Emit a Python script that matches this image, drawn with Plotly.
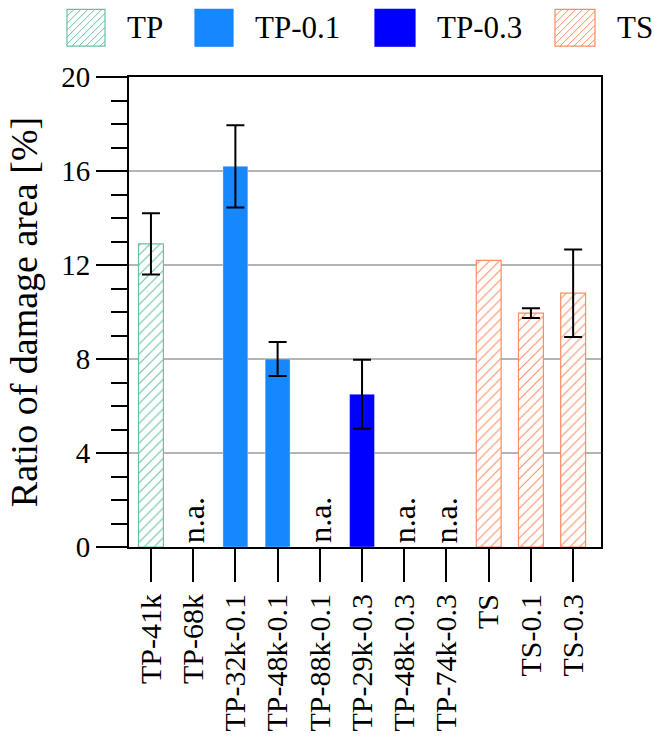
import plotly.graph_objects as go

# Specimens, in display order
categories = ["TP-41k", "TP-68k", "TP-32k-0.1", "TP-48k-0.1", "TP-88k-0.1",
              "TP-29k-0.3", "TP-48k-0.3", "TP-74k-0.3", "TS", "TS-0.1", "TS-0.3"]

# Ratio of damage area [%] (None = not available / no scatter band)
tp_names = ["TP-41k", "TP-68k"]
tp_values = [12.9, None]
tp_errors = [1.3, None]

tp01_names = ["TP-32k-0.1", "TP-48k-0.1", "TP-88k-0.1"]
tp01_values = [16.2, 8.0, None]
tp01_errors = [1.75, 0.72, None]

tp03_names = ["TP-29k-0.3", "TP-48k-0.3", "TP-74k-0.3"]
tp03_values = [6.5, None, None]
tp03_errors = [1.47, None, None]

ts_names = ["TS", "TS-0.1", "TS-0.3"]
ts_values = [12.2, 9.95, 10.8]
ts_errors = [None, 0.21, 1.86]

y_ticks = [0, 4, 8, 12, 16, 20]

FONT = "'Times New Roman', 'Liberation Serif', Tinos, 'DejaVu Serif', serif"
GREEN = "#66c2a5"
ORANGE = "#fc8d62"
BLUE1 = "#1787ff"
BLUE3 = "#0000ff"

series = [
    ("TP", tp_names, tp_values, tp_errors, GREEN, True),
    ("TP-0.1", tp01_names, tp01_values, tp01_errors, BLUE1, False),
    ("TP-0.3", tp03_names, tp03_values, tp03_errors, BLUE3, False),
    ("TS", ts_names, ts_values, ts_errors, ORANGE, True),
]

# plot-area geometry in pixels
W, H = 654, 744
L, R, T, B = 129, 53, 77, 195
PW = W - L - R
PH = H - T - B

fig = go.Figure()

for name, xs, ys, errs, color, hatched in series:
    if hatched:
        marker = dict(color="white", line=dict(color=color, width=1.2),
                      pattern=dict(shape="/", fgcolor=color, bgcolor="white",
                                   size=7, solidity=0.15, fillmode="replace"))
    else:
        marker = dict(color=color, line=dict(color="rgba(255,255,255,0.35)", width=1))
    fig.add_trace(go.Bar(x=xs, y=ys, name=name, width=0.59, marker=marker,
                         showlegend=False))

    # error bars only where a spread was measured
    ex = [x for x, y, e in zip(xs, ys, errs) if y is not None and e is not None]
    ey = [y for x, y, e in zip(xs, ys, errs) if y is not None and e is not None]
    ee = [e for x, y, e in zip(xs, ys, errs) if y is not None and e is not None]
    if ex:
        fig.add_trace(go.Scatter(
            x=ex, y=ey, mode="markers", marker=dict(size=1, opacity=0),
            showlegend=False, hoverinfo="skip",
            error_y=dict(type="data", array=ee, visible=True, color="black",
                         thickness=2, width=9),
        ))

    # "n.a." labels for missing specimens
    for xv, yv in zip(xs, ys):
        if yv is None:
            fig.add_annotation(x=xv, y=0, text="n.a.", textangle=-90,
                               showarrow=False, xanchor="center", yanchor="bottom",
                               yshift=2, font=dict(family=FONT, size=32, color="black"))


def px_to_paper(px, py):
    return (px - L) / PW, (H - B - py) / PH


# legend drawn as swatches + labels across the top
legend_items = [
    ("TP", GREEN, True, 67, 105),
    ("TP-0.1", BLUE1, False, 195, 233),
    ("TP-0.3", BLUE3, False, 375, 415),
    ("TS", ORANGE, True, 555, 595),
]
by0, by1 = 9, 46
for label, color, hatched, bx0, bx1 in legend_items:
    x0, y0 = px_to_paper(bx0, by1)
    x1, y1 = px_to_paper(bx1, by0)
    fig.add_shape(type="rect", xref="paper", yref="paper", x0=x0, x1=x1, y0=y0, y1=y1,
                  line=dict(color=color, width=1.2),
                  fillcolor="white" if hatched else color, layer="above")
    if hatched:
        segs = []
        step = 7
        c = bx0 + by0 + step
        while c < bx1 + by1:
            # line px + py = c clipped to the box
            pts = []
            for px in (bx0, bx1):
                py = c - px
                if by0 <= py <= by1:
                    pts.append((px, py))
            for py in (by0, by1):
                px = c - py
                if bx0 <= px <= bx1:
                    pts.append((px, py))
            pts = sorted(set(pts))
            if len(pts) >= 2:
                (ax, ay), (bx, bb) = pts[0], pts[-1]
                p1 = px_to_paper(ax, ay)
                p2 = px_to_paper(bx, bb)
                segs.append(f"M{p1[0]},{p1[1]} L{p2[0]},{p2[1]}")
            c += step
        fig.add_shape(type="path", xref="paper", yref="paper", path=" ".join(segs),
                      line=dict(color=color, width=1), layer="above")
    tx, ty = px_to_paper(bx1 + 20, (by0 + by1) / 2)
    fig.add_annotation(xref="paper", yref="paper", x=tx, y=ty, text=label,
                       showarrow=False, xanchor="left", yanchor="middle",
                       font=dict(family=FONT, size=31, color="black"))

fig.update_layout(
    width=W, height=H,
    margin=dict(l=L, r=R, t=T, b=B),
    paper_bgcolor="white", plot_bgcolor="white",
    barmode="overlay",
    font=dict(family=FONT, color="black"),
    showlegend=False,
)

fig.update_xaxes(
    type="category", categoryorder="array", categoryarray=categories,
    range=[-0.52, 10.66],
    showline=True, linecolor="black", linewidth=2, mirror=True,
    ticks="outside", ticklen=33, tickwidth=2, tickcolor="black",
    tickangle=-90, tickfont=dict(family=FONT, size=30, color="black"),
    showgrid=False, zeroline=False,
)

fig.update_yaxes(
    range=[0, 20], tickvals=y_ticks, ticktext=[str(v) for v in y_ticks],
    showline=True, linecolor="black", linewidth=2, mirror=True,
    ticks="outside", ticklen=31, tickwidth=2, tickcolor="black",
    tickfont=dict(family=FONT, size=29, color="black"),
    minor=dict(dtick=1, ticks="outside", ticklen=16, tickwidth=2,
               tickcolor="black", showgrid=False),
    showgrid=True, gridcolor="#b4b4b4", gridwidth=2,
    zeroline=False,
    title=dict(text="Ratio of damage area [%]", standoff=12,
               font=dict(family=FONT, size=38, color="black")),
)

fig.write_html("out.html")
